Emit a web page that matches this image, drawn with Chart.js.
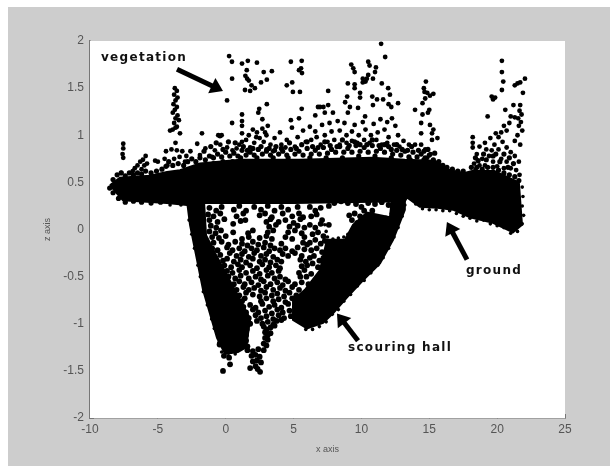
<!DOCTYPE html>
<html>
<head>
<meta charset="utf-8">
<title>scouring hall scan</title>
<script src="https://cdn.jsdelivr.net/npm/chart.js@4/dist/chart.umd.min.js"></script>
<style>
    html, body { margin: 0; padding: 0; background: #fff; width: 610px; height: 466px; overflow: hidden; }
    #wrap { position: absolute; left: 8px; top: 7px; width: 602px; height: 459px; background: #cdcdcd; }
    canvas { display: block; filter: blur(0.6px); }
</style>
</head>
<body>
<div id="wrap"><canvas id="scan" width="602" height="459"></canvas></div>
<script>
const xTicks = [-10, -5, 0, 5, 10, 15, 20, 25];
const zTicks = [-2, -1.5, -1, -0.5, 0, 0.5, 1, 1.5, 2];

// outlines of the areas where the returns merge into solid black
const bandOutline = [[-8.53,.47],[-7.8,.55],[-5.58,.57],[-4.33,.61],[-3.37,.63],[-1.9,.7],[1.05,.74],[5.47,.74],[10.8,.76],[13.2,.74],[15.4,.73],[16.5,.63],[17.6,.6],[18.15,.62],[19.8,.62],[21.6,.5],[21.83,.05],[21.17,-.03],[19.7,.07],[18,.13],[16.75,.21],[15.6,.23],[14.3,.24],[13.36,.34],[13.2,.3],[5,.28],[-1.6,.28],[-2.85,.26],[-4.33,.28],[-7.57,.31],[-7.94,.37]];
const wallOutline = [[-2.85,.3],[-1.6,.3],[-1.45,-.06],[-.64,-.29],[.6,-.62],[1.8,-.95],[1.5,-1.25],[.9,-1.3],[-.05,-1.32],[-.64,-1.15],[-1.67,-.64],[-2.63,.05]];
const bowlOutline = [[13.2,.36],[13.2,.21],[12.33,-.11],[11.37,-.36],[10.12,-.54],[8.94,-.72],[7.91,-.89],[7.17,-.99],[5.99,-1.05],[4.96,-.96],[4.96,-.75],[5.84,-.64],[6.95,-.43],[7.46,-.11],[8.78,-.11],[9.38,.05],[10.41,.18],[12.1,.13],[12.25,.33]];

const fringePoints = [[-8.3,.53],[-8.0,.58],[-7.7,.6],[-7.4,.57],[-7.1,.6],[-6.8,.58],[-6.5,.6],[-6.2,.59],[-5.9,.62],[-5.5,.6],[-5.1,.62],[-4.7,.64],[-4.4,.67],[-4.2,.72],[-3.9,.68],[-3.5,.7],[-3.1,.68],[-2.8,.72],[-2.5,.75],[-2.2,.72],[-1.9,.76],[-1.5,.74],[-1.2,.78],[-.9,.76],[-.6,.8],[-.3,.77],[0,.82],[.3,.78],[.6,.81],[.9,.78],[1.2,.84],[1.5,.79],[1.8,.82],[2.1,.79],[2.4,.85],[2.7,.8],[3,.83],[3.3,.79],[3.6,.84],[3.9,.8],[4.2,.83],[4.5,.79],[4.8,.85],[5.1,.8],[5.4,.83],[5.7,.79],[6,.86],[6.3,.8],[6.6,.84],[6.9,.8],[7.2,.87],[7.5,.81],[7.8,.85],[8.1,.82],[8.4,.88],[8.7,.82],[9,.86],[9.3,.82],[9.6,.89],[9.9,.83],[10.2,.87],[10.5,.82],[10.8,.89],[11.1,.83],[11.4,.86],[11.7,.82],[12,.88],[12.3,.8],[12.6,.84],[12.9,.79],[13.2,.83],[13.5,.77],[13.8,.82],[14.1,.77],[14.4,.8],[14.7,.76],[15,.79],[15.3,.74],[-8.55,.44],[-8.3,.39],[-7.9,.33],[-7.4,.29],[-6.8,.3],[-6.2,.29],[-5.5,.28],[-4.8,.29]];

// second pass over the busy strip just above the band
const densePoints = [
    [-1.6,.83],[-1.1,.88],[-.7,.92],[-.2,.85],[.2,.93],[.7,.92],[1.3,.88],[1.6,.84],[2,.86],[2.6,.88],[3.2,.86],[3.7,.88],[4.1,.86],[4.7,.92],[5.2,.86],[5.6,.9],[6,.93],[6.4,.88],[6.8,.87],[7.3,.93],[7.7,.89],[8.2,.88],[8.6,.95],[9.1,.89],[9.5,.93],[9.9,.9],[10.4,.9],[10.8,.95],[11.3,.89],[11.7,.9],[12.2,.85],[12.6,.9],[13,.85],[13.4,.84],[13.7,.88],[14.2,.84],[14.6,.83],[14.9,.85],[15.4,.81],
    [-.9,.7],[-.2,.72],[.5,.72],[1.1,.76],[2.3,.76],[3.5,.76],[4.6,.76],[6.2,.76],[7.4,.76],[8.6,.76],[9.8,.78],[11,.78],[12.2,.76],[13.6,.74],[14.6,.74],[15.7,.72],[16,.68],[16.3,.66],[16.7,.64],[17.1,.62],[17.5,.62],
    [18.1,.66],[18.5,.66],[18.9,.64],[19.3,.66],[19.7,.66],[20.1,.63],[20.5,.6],[20.9,.58],[21.3,.56],[21.6,.52],[18.6,.73],[19.2,.74],[19.7,.78],[20.2,.72],[20.8,.66],[21.2,.7],[19,.8],[19.9,.8],[20.5,.8],[20.9,.76],[18.4,.76]
];

// returns sitting on the rims of the solid areas
const rimPoints = [
    [21.85,.45],[21.9,.35],[21.85,.25],[21.95,.15],[21.85,.06],[21.5,-.02],[21,-.04],[20.5,.02],[20,.04],[19.5,.06],[19,.1],[18.5,.09],[18,.12],[17.5,.14],[17,.17],[16.5,.2],[16,.2],[15.5,.21],[15,.21],[14.5,.22],[14,.27],
    [-1.9,.27],[-2.5,.24],[-3.3,.26],[-4.1,.26],[-2.7,.1],[-2.5,-.05],[-2.3,-.2],[-2.05,-.38],[-1.87,-.5],[-1.65,-.66],[-1.35,-.8],[-1.04,-.95],[-.84,-1.05],[-.5,-1.2],[-.3,-1.3],[.2,-1.34],[.7,-1.32],
    [5.4,-.98],[5.9,-1.06],[6.4,-1.06],[6.9,-1.03],[7.4,-.98],[7.85,-.9],[8.3,-.85],[8.7,-.76],[9.2,-.69],[9.7,-.6],[10.2,-.54],[10.7,-.46],[11.2,-.38],[11.6,-.3],[12,-.2],[12.4,-.08],[12.7,.02],[13,.14],[13.2,.26],
    [7.5,-.08],[7.9,-.1],[8.3,-.09],[8.7,-.08],[9,-.05],[9.3,0],[9.6,.05],[10,.12],[10.4,.15],[10.8,.12],[11.3,.12],[11.8,.13],[12.2,.17],[7.4,-.02],[7.3,.05],[7.5,-.22],[7.2,-.36],[7.05,-.42],[6.7,-.5],[6.4,-.56],[5.9,-.66],[5.5,-.7],[5.2,-.78]
];

const vegetationPoints = [
    [-3.75,1.5],[-3.6,1.47],[-3.8,1.43],[-3.55,1.4],[-3.7,1.37],[-3.85,1.33],[-3.6,1.3],[-3.75,1.27],[-3.9,1.24],[-3.55,1.21],[-3.7,1.18],[-3.45,1.16],[-3.8,1.13],[-3.6,1.09],[-3.9,1.06],[-3.7,1.08],[-4.1,1.05],[-3.37,1.02],[-3.7,.92],
    [-7.55,.91],[-7.55,.86],[-7.6,.8],[-7.55,.76],[-5.9,.78],[-6.1,.74],[-6.3,.72],[-6.5,.68],[-6.7,.65],[-6.85,.62],[-6,.68],[-6.2,.64],[-5.8,.7],[-5.2,.73],[-5,.72],[-7.7,.6],
    [-4.4,.83],[-4,.85],[-3.6,.84],[-3.2,.83],[-2.9,.78],[-4.5,.75],[-3,.72],[-4.3,.68],[-3.8,.75],[-3.4,.77],[-2.6,.83],
    [-1.75,1.02],[-2.1,.91],[-1.9,.79],[-1,.77],[-.55,1],[-.3,1],[-.42,.99],[.1,1.37],[-1.5,.86],[-.8,.84],[-.4,.9],[.1,.87],[.5,.84],
    [.25,1.84],[.46,1.78],[1.2,1.76],[1.63,1.79],[2.3,1.77],[.47,1.6],[1.55,1.69],[1.58,1.6],[1.45,1.63],[1.7,1.58],[2.8,1.67],[3.4,1.68],[3.03,1.59],[2.6,1.56],[1.42,1.48],[1.9,1.53],[1.8,1.47],[2.15,1.5],
    [4.8,1.78],[5.6,1.79],[5.55,1.71],[5.62,1.66],[5.4,1.69],[4.5,1.53],[4.9,1.56],[4.95,1.46],[5.47,1.46],[3.03,1.33],[2.47,1.28],[2.4,1.24],[2.7,1.17],[1.2,1.22],[1.2,1.15],[1.2,1.1],[.47,1.13],[4.8,1.16],[5.4,1.18],[5.6,1.28],[4.88,1.08],
    [1.2,1.02],[1.2,.93],[2,1.06],[1.7,1],[2.3,1.03],[2.7,1.07],[3.1,1.1],[3,1],[2.5,.97],[2.1,.92],[1.8,.87],[2.8,.93],[3.3,.9],[3.6,.97],[4,1.03],[2.4,.85],[3,.85],[3.5,.83],[4.1,.9],[4.5,.95],[1.5,.95],[2.25,.98],[2.9,1.03],[1.0,.9],[.8,.86],[4.4,.87],[5.3,.98],[5.7,1.05],[5.9,.93],[5.1,.88],
    [7.55,1.47],[6.8,1.3],[7.2,1.3],[9.25,1.75],[9.4,1.71],[9.5,1.67],[9,1.55],[9.5,1.54],[10.1,1.56],[10.4,1.6],[10.5,1.78],[11.45,1.97],[11.75,1.83],[10.6,1.74],[11.07,1.72],[11,1.67],[10.5,1.64],[10.85,1.6],[10.1,1.6],[10.3,1.57],[11.5,1.55],[9.5,1.5],[11.97,1.5],[8.95,1.41],[9.9,1.45],[9.9,1.4],[10.8,1.41],[12.1,1.43],[11.6,1.38],[11.15,1.38],[8.8,1.35],[9.15,1.3],[9.75,1.29],[10.85,1.32],[12,1.33],[12.7,1.34],[12.2,1.3],[6.95,1.3],[7.55,1.32],[6.6,1.21],[7.3,1.24],[7.9,1.24],[9,1.24],[10.27,1.2],[12.25,1.18],[6.2,1.09],[7.1,1.11],[7.65,1.13],[8.25,1.15],[8.75,1.13],[9.5,1.11],[12.5,1.1],[7.3,1],[7.8,1.04],[8.4,1.05],[8.9,1],[9.3,1.04],[9.8,1],[10.3,1.06],[10.7,1],[11.2,1.03],[11.7,1.06],[12,.98],[12.7,1],[13.1,.94],[13.5,.9],[6.3,.95],[6.7,.98],[7,.9],[7.5,.93],[8,.95],[8.4,.9],[8.9,.92],[9.3,.94],[9.7,.92],[10.2,.95],[10.6,.92],[11.1,.95],[11.5,.9],[11.9,.92],[12.4,.9],[12.8,.88],[10.1,1.14],[10.9,1.12],[11.4,1.17],[11.9,1.14],[6.6,1.04],
    [13.95,1.27],[14.5,1.34],[15,1.27],[14.5,1.22],[14.9,1.24],[14.75,1.57],[14.6,1.5],[14.85,1.45],[15.3,1.44],[15.05,1.42],[14.7,1.39],[14.65,1.46],[14.4,1.13],[15.05,1.11],[14.4,1.02],[15.3,1.06],[15.6,.97],[15.2,.95],[13.95,.9],[14.4,.9],[14.85,.76],[15.1,.8],[14.7,.85],[15.2,1.02],
    [18.2,.98],[18.2,.92],[18.2,.87],[19.1,.92],[19.3,1.2],[19.6,1.41],[19.85,1.4],[19.7,1.38],[20.35,1.48],[20.45,1.57],[20.35,1.67],[20.35,1.79],[21.3,1.53],[21.5,1.55],[21.7,1.56],[22.05,1.6],[21.9,1.45],[20.6,1.27],[21.2,1.32],[21.7,1.32],[21.65,1.26],[21.8,1.22],[21.55,1.18],[21.75,1.14],[21.6,1.1],[21.85,1.05],[21.3,1.19],[20.9,1.13],[20.5,1.1],[21.3,.94],[21.7,.9],[20.7,1.05],[21.0,1.2],[21.5,1.0],
    [18.9,.75],[18.5,.8],[18.3,.7],[18.7,.68],[19.2,.85],[19.5,.97],[19.8,.9],[20.1,.98],[19.4,.78],[19.7,.72],[19.1,.68],[20.1,.85],[20.4,.93],[20.7,.87],[21,.82],[21.3,.78],[21.6,.72],[20.3,.75],[20.7,.72],[21,.65],[21.4,.63],[20,.67],[19.6,.84],[18.7,.88],[19.9,1.02],[20.3,1.03],[18.4,.63],[20.5,.65],[21.65,.58]
];

const specklePoints = [
    [-1.2,.23],[-.7,.2],[-.3,.24],[.6,.21],[1,.25],[1.5,.2],[2.1,.24],[2.6,.21],[3.1,.25],[3.6,.2],[4.1,.24],[4.6,.21],[5.3,.24],
    [-1.3,.16],[-.9,.14],[-.4,.17],[.8,.14],[1.3,.17],[2.5,.15],[2.9,.17],[3.4,.13],[4.2,.17],[4.9,.14],[5.4,.17],[5.7,.13],
    [-1.2,.1],[-.6,.08],[-.1,.11],[1.1,.09],[1.45,.1],[3,.08],[3.3,.11],[3.9,.08],[4.4,.1],[5,.07],[5.5,.11],
    [-1.1,.04],[-.7,.02],[.55,.06],[3.2,.03],[3.7,.05],[4.7,.03],[5.3,.04],[5.8,.02],
    [-1.2,-.02],[-.75,-.04],[-.35,-.01],[.55,-.03],[1.65,-.04],[2.0,-.01],[3.1,-.03],[3.5,-.01],[4.6,-.03],[5.1,-.01],[5.6,-.04],
    [-1,-.08],[-.5,-.09],[0,-.07],[1.2,-.1],[1.7,-.08],[2.5,-.09],[3,-.07],[3.4,-.1],[4.4,-.08],[4.9,-.1],[5.8,-.08],
    [-.9,-.14],[-.3,-.13],[.2,-.16],[.7,-.13],[1.2,-.15],[1.6,-.17],[2,-.13],[2.4,-.16],[2.9,-.14],[3.3,-.17],[4.1,-.15],[5.7,-.14],[6,-.16],
    [-1,-.2],[-.6,-.22],[.1,-.19],[.5,-.22],[1,-.2],[1.4,-.23],[1.9,-.2],[2.3,-.22],[2.8,-.19],[3.2,-.23],[3.6,-.2],[4,-.22],[4.4,-.2],[4.9,-.23],[5.3,-.19],[5.8,-.21],
    [-.4,-.27],[.3,-.25],[.8,-.28],[1.2,-.26],[1.7,-.29],[2.1,-.25],[2.6,-.28],[3,-.26],[3.5,-.29],[4.2,-.26],[4.6,-.28],[5.1,-.25],[5.6,-.28],
    [-.2,-.33],[.1,-.31],[.6,-.34],[1.1,-.32],[1.5,-.35],[2,-.31],[2.5,-.34],[2.9,-.32],[3.3,-.35],[3.8,-.32],[4.1,-.34],[5.5,-.32],[5.9,-.34],
    [-.1,-.38],[.4,-.4],[.9,-.37],[1.2,-.4],[1.8,-.38],[2.3,-.41],[2.7,-.37],[3.2,-.4],[3.7,-.38],[4,-.41],[5.6,-.39],
    [.1,-.44],[.5,-.46],[1,-.43],[1.5,-.46],[2,-.44],[2.5,-.47],[3,-.43],[3.4,-.46],[3.9,-.44],[5.4,-.46],[5.8,-.43],
    [.2,-.5],[.7,-.52],[1.1,-.49],[1.7,-.52],[2.2,-.5],[2.6,-.53],[3.1,-.49],[3.6,-.52],[4,-.5],[4.4,-.53],[5.5,-.5],
    [.1,-.56],[.6,-.58],[1,-.55],[1.4,-.58],[1.9,-.56],[2.4,-.59],[2.8,-.55],[3.3,-.58],[3.8,-.56],[4.2,-.59],[4.6,-.55],[5.1,-.58],[5.6,-.56],
    [.4,-.62],[.8,-.64],[1.3,-.61],[1.7,-.64],[2.1,-.62],[2.6,-.65],[3,-.61],[3.5,-.64],[4,-.62],[4.4,-.65],[4.9,-.61],[5.4,-.64],
    [.6,-.68],[1,-.7],[1.5,-.67],[2,-.69],[2.5,-.71],[2.9,-.67],[3.4,-.7],[3.8,-.68],[4.3,-.71],[4.7,-.67],[5.2,-.7],
    [.7,-.74],[1.2,-.76],[1.4,-.73],[2.6,-.76],[3,-.73],[3.5,-.76],[3.9,-.74],[4.4,-.77],[4.9,-.73],[5.3,-.76],
    [.9,-.8],[1.3,-.82],[1.8,-.8],[2.2,-.83],[2.7,-.79],[3.2,-.82],[3.6,-.8],[4.1,-.83],[4.6,-.79],[5.1,-.82],
    [1.1,-.86],[1.5,-.88],[2,-.85],[2.4,-.88],[2.9,-.86],[3.4,-.89],[3.8,-.85],[4.2,-.88],[4.7,-.86],[5.2,-.89],
    [1.2,-.92],[1.7,-.94],[2.2,-.91],[2.6,-.94],[3,-.92],[3.5,-.95],[3.9,-.91],[4.3,-.94],[4.8,-.92],
    [1.3,-.98],[1.8,-1],[2.3,-.97],[2.7,-1],[3.1,-.98],[3.5,-1.01],[3.75,-.97],[4.1,-.96],
    [1.35,-1.04],[1.55,-1.06],[2.8,-1.03],[3,-1.06],[3.3,-1.04],[3.6,-1.02],
    [1.35,-1.1],[1.5,-1.12],[2.9,-1.09],[3.1,-1.12],[3.3,-1.1],
    [1.35,-1.16],[1.5,-1.18],[2.9,-1.15],[3.1,-1.17],
    [1.4,-1.22],[1.6,-1.24],[2.8,-1.21],[3,-1.23],
    [1.6,-1.28],[2,-1.29],[2.4,-1.27],[2.8,-1.28],[1.9,-1.34],[2.2,-1.33],[2.5,-1.35],[2,-1.4],[2.3,-1.39],[2.6,-1.41],[1.8,-1.47],[2.2,-1.45],[2.53,-1.51],[2.35,-1.48],
    [-.2,-1.5],[.32,-1.43],[-.13,-1.34],[.25,-1.36],[-.45,-1.22],
    [6.2,.24],[6.6,.2],[7,.23],[6.3,.14],[6.7,.16],[7.1,.1],[6.2,.05],[6.6,.02],[7,.06],[6.4,-.05],[6.8,-.03],[7.2,-.07],[6.2,-.14],[6.6,-.11],[7,-.15],[7.3,-.12],[6.3,-.22],[6.7,-.2],[7.1,-.24],[6.2,-.3],[6.5,-.28],[6.9,-.33],[7.2,-.3],[6,-.38],[6.4,-.36],[6.8,-.4],[5.95,-.5],[6.3,-.47],[6.1,-.58],
    [9.6,.27],[10,.24],[9.5,.17],[9.9,.14],[9.3,.1],[9.7,.07],[10.2,.2],[10.5,.28],[11,.27],[11.5,.29],[12,.26],[10.8,.2],[8,.28],[8.5,.3],[7.6,.25],[9,.28],[9.1,.15],[7.6,.05]
];

// pairs of tail, tip for the three annotation arrows
const arrowTails = [[-3.59,1.7],[9.75,-1.18],[17.78,-.32]];
const arrowTips = [[-.2,1.47],[8.2,-.89],[16.3,.08]];
const noteTexts = ['vegetation', 'scouring hall', 'ground'];
const notePositions = [[-9.19,1.82],[9.01,-1.26],[17.7,-.44]];

function toXY(pairs) {
    return pairs.map(p => ({ x: p[0], y: p[1] }));
}

function outlineDataset(pairs) {
    return {
        data: toXY(pairs.concat([pairs[0]])),
        showLine: true,
        fill: 'shape',
        backgroundColor: '#000',
        borderColor: '#000',
        borderWidth: 2,
        tension: 0,
        pointRadius: 0
    };
}

function pointDataset(pairs, radius) {
    return {
        data: toXY(pairs),
        showLine: false,
        backgroundColor: '#000',
        borderWidth: 0,
        pointRadius: radius,
        pointStyle: 'circle'
    };
}

const plotBackground = {
    id: 'plotBackground',
    beforeDatasetsDraw(chart) {
        const a = chart.chartArea;
        const ctx = chart.ctx;
        ctx.save();
        ctx.fillStyle = '#fff';
        ctx.fillRect(a.left, a.top, a.right - a.left, a.bottom - a.top);
        ctx.restore();
    }
};

const annotations = {
    id: 'annotations',
    afterDatasetsDraw(chart) {
        const ctx = chart.ctx;
        const sx = chart.scales.x;
        const sy = chart.scales.y;
        ctx.save();
        ctx.fillStyle = '#000';
        ctx.strokeStyle = '#000';
        ctx.lineWidth = 5;
        arrowTails.forEach((tail, i) => {
            const x1 = sx.getPixelForValue(tail[0]);
            const y1 = sy.getPixelForValue(tail[1]);
            const x2 = sx.getPixelForValue(arrowTips[i][0]);
            const y2 = sy.getPixelForValue(arrowTips[i][1]);
            const ang = Math.atan2(y2 - y1, x2 - x1);
            ctx.beginPath();
            ctx.moveTo(x1, y1);
            ctx.lineTo(x2 - 10 * Math.cos(ang), y2 - 10 * Math.sin(ang));
            ctx.stroke();
            ctx.beginPath();
            ctx.moveTo(x2, y2);
            ctx.lineTo(x2 - 15 * Math.cos(ang - 0.6), y2 - 15 * Math.sin(ang - 0.6));
            ctx.lineTo(x2 - 15 * Math.cos(ang + 0.6), y2 - 15 * Math.sin(ang + 0.6));
            ctx.closePath();
            ctx.fill();
        });
        ctx.textBaseline = 'middle';
        ctx.textAlign = 'left';
        ctx.fillStyle = '#111';
        ctx.font = 'bold 12px "DejaVu Sans"';
        ctx.letterSpacing = '1.3px';
        noteTexts.forEach((t, i) => {
            ctx.fillText(t, sx.getPixelForValue(notePositions[i][0]), sy.getPixelForValue(notePositions[i][1]));
        });
        ctx.restore();
    }
};

new Chart(document.getElementById('scan').getContext('2d'), {
    type: 'scatter',
    data: {
        datasets: [
            outlineDataset(bandOutline),
            outlineDataset(wallOutline),
            outlineDataset(bowlOutline),
            pointDataset(fringePoints, 2.6),
            pointDataset(densePoints, 2.6),
            pointDataset(rimPoints, 1.8),
            pointDataset(vegetationPoints, 2.4),
            pointDataset(specklePoints, 2.9)
        ]
    },
    options: {
        responsive: false,
        animation: false,
        layout: { padding: { left: 0, right: 45, top: 34, bottom: 0 } },
        plugins: {
            legend: { display: false },
            tooltip: { enabled: false }
        },
        scales: {
            x: {
                type: 'linear',
                min: -10,
                max: 25,
                afterFit: s => { s.height = 48; },
                afterBuildTicks: s => { s.ticks = xTicks.map(v => ({ value: v })); },
                border: { color: '#777', width: 1.5 },
                grid: { drawOnChartArea: false, tickLength: -4, color: '#777' },
                ticks: { color: '#555', font: { family: 'Liberation Sans', size: 12 }, padding: 8, maxRotation: 0, autoSkip: false, callback: v => String(v) },
                title: { display: true, text: 'x axis', color: '#555', font: { family: 'Liberation Sans', size: 9 }, padding: { top: 0, bottom: 11 } }
            },
            y: {
                type: 'linear',
                min: -2,
                max: 2,
                afterFit: s => { s.width = 82; },
                afterBuildTicks: s => { s.ticks = zTicks.map(v => ({ value: v })); },
                border: { color: '#777', width: 1.5 },
                grid: { drawOnChartArea: false, tickLength: -4, color: '#777' },
                ticks: { color: '#555', font: { family: 'Liberation Sans', size: 12 }, padding: 10, autoSkip: false, callback: v => String(v) },
                title: { display: true, text: 'z axis', color: '#555', font: { family: 'Liberation Sans', size: 9 }, padding: { top: 34, bottom: 0 } }
            }
        }
    },
    plugins: [plotBackground, annotations]
});
</script>
</body>
</html>
